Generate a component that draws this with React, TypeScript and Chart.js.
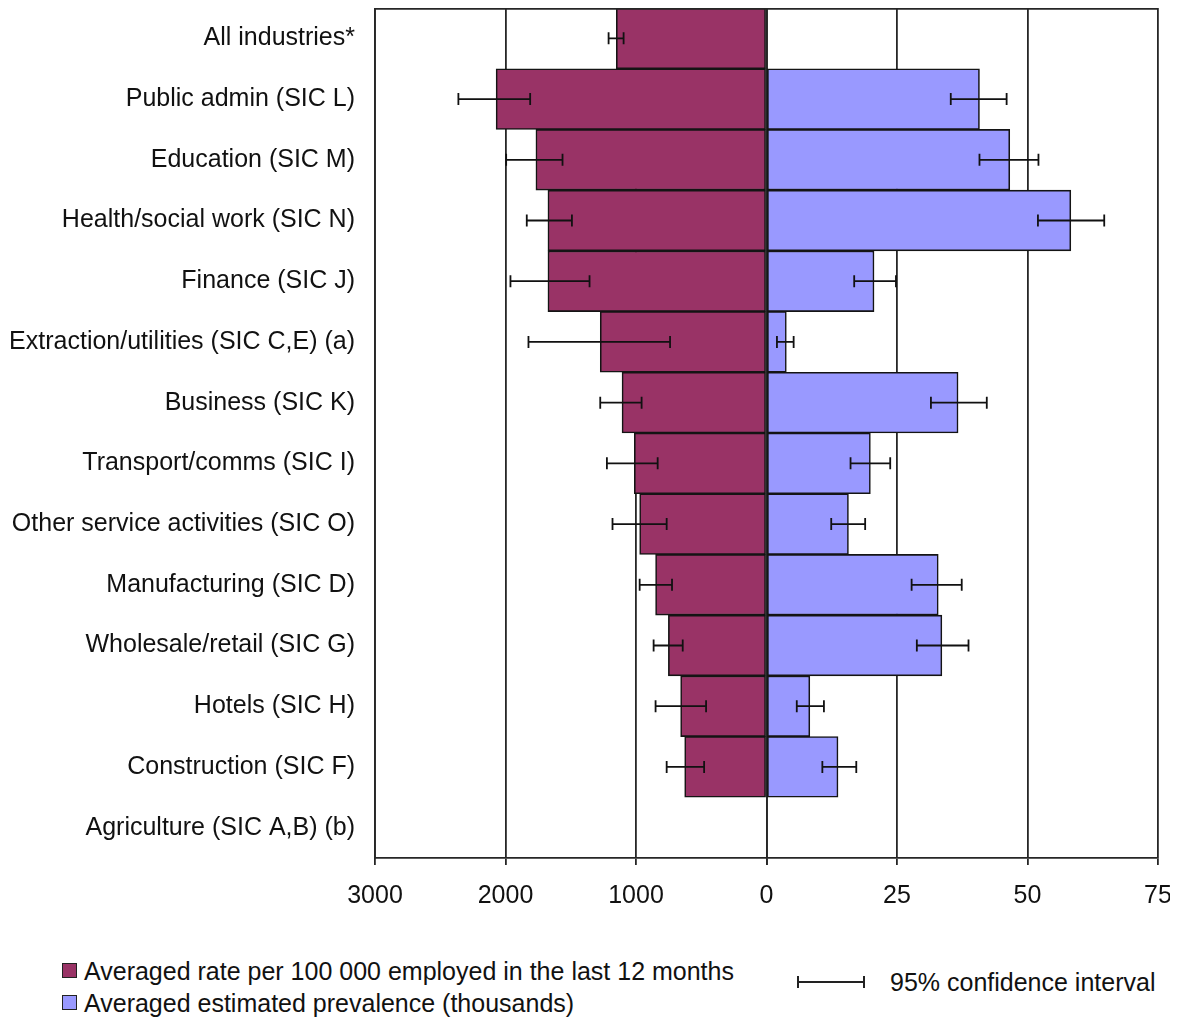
import React, { useEffect, useRef } from "react";
import { Chart, registerables } from "chart.js";

Chart.register(...registerables);

const categories = [
  "All industries*",
  "Public admin (SIC L)",
  "Education (SIC M)",
  "Health/social work (SIC N)",
  "Finance (SIC J)",
  "Extraction/utilities (SIC C,E) (a)",
  "Business (SIC K)",
  "Transport/comms (SIC I)",
  "Other service activities (SIC O)",
  "Manufacturing (SIC D)",
  "Wholesale/retail (SIC G)",
  "Hotels (SIC H)",
  "Construction (SIC F)",
  "Agriculture (SIC A,B) (b)",
];

// Averaged rate per 100 000 employed (left side)
const rateValues = [1151, 2072, 1767, 1675, 1675, 1274, 1107, 1013, 972, 850, 752, 658, 627, null];
const rateLow = [1095, 1811, 1563, 1491, 1356, 739, 957, 834, 765, 724, 642, 463, 478, null];
const rateHigh = [1210, 2361, 1995, 1837, 1962, 1824, 1274, 1223, 1180, 972, 865, 850, 765, null];

// Averaged estimated prevalence, thousands (right side)
const prevValues = [null, 40.8, 46.6, 58.3, 20.6, 3.8, 36.7, 19.9, 15.7, 32.9, 33.6, 8.3, 13.7, null];
const prevLow = [null, 35.3, 40.8, 52.0, 16.8, 2.0, 31.5, 16.1, 12.4, 27.8, 28.8, 5.8, 10.7, null];
const prevHigh = [null, 46.0, 52.1, 64.7, 24.8, 5.2, 42.2, 23.7, 18.9, 37.4, 38.7, 11.0, 17.2, null];

const rateAxis = { min: 0, max: 3000, step: 1000 };
const prevAxis = { min: 0, max: 75, step: 25 };

const legendRate = "Averaged rate per 100 000 employed in the last 12 months";
const legendPrev = "Averaged estimated prevalence (thousands)";
const legendCI = "95% confidence interval";

const FONT = "'Liberation Sans', Arial, Helvetica, sans-serif";
const RATE_COLOR = "#993366";
const PREV_COLOR = "#9999FF";
const LINE = "#262626";

const errorBarPlugin = {
  id: "errorBars",
  afterDatasetsDraw(chart: any) {
    const ctx = chart.ctx;
    chart.data.datasets.forEach((ds: any, i: number) => {
      const meta = chart.getDatasetMeta(i);
      const scale = chart.scales[ds.xAxisID];
      meta.data.forEach((bar: any, j: number) => {
        const lo = ds.errLow[j];
        const hi = ds.errHigh[j];
        if (lo == null || hi == null) return;
        const x1 = scale.getPixelForValue(lo);
        const x2 = scale.getPixelForValue(hi);
        const y = bar.y;
        ctx.save();
        ctx.strokeStyle = "#111";
        ctx.lineWidth = 1.8;
        ctx.beginPath();
        ctx.moveTo(x1, y);
        ctx.lineTo(x2, y);
        ctx.moveTo(x1, y - 6);
        ctx.lineTo(x1, y + 6);
        ctx.moveTo(x2, y - 6);
        ctx.lineTo(x2, y + 6);
        ctx.stroke();
        ctx.restore();
      });
    });
  },
};

const framePlugin = {
  id: "frameTop",
  afterDatasetsDraw(chart: any) {
    const { ctx, chartArea } = chart;
    ctx.save();
    ctx.strokeStyle = LINE;
    ctx.lineWidth = 1.8;
    ctx.beginPath();
    ctx.moveTo(chartArea.left, chartArea.top + 0.9);
    ctx.lineTo(chartArea.right, chartArea.top + 0.9);
    ctx.stroke();
    ctx.restore();
  },
};

function xScale(cfg: any, reverse: boolean, hideZero: boolean, padRight: number) {
  return {
    type: "linear",
    position: "bottom",
    stack: "x",
    reverse,
    min: cfg.min,
    max: cfg.max,
    afterFit(scale: any) {
      scale.height = 50;
      scale.paddingRight = padRight;
      scale.paddingLeft = 0;
    },
    ticks: {
      stepSize: cfg.step,
      autoSkip: false,
      maxRotation: 0,
      color: "#111",
      padding: 16,
      font: { family: FONT, size: 25 },
      callback: (v: any) => (hideZero && v === 0 ? "" : String(v)),
    },
    grid: { color: LINE, lineWidth: 1.8, tickLength: 7, tickColor: LINE, tickWidth: 1.8 },
    border: { display: true, color: LINE, width: 1.8 },
  };
}

export default function App() {
  const ref = useRef<HTMLCanvasElement | null>(null);

  useEffect(() => {
    if (!ref.current) return;
    const chart = new Chart(ref.current, {
      type: "bar",
      data: {
        labels: categories,
        datasets: [
          {
            label: legendRate,
            data: rateValues,
            xAxisID: "xL",
            yAxisID: "y",
            backgroundColor: RATE_COLOR,
            borderColor: "#141414",
            borderWidth: 1.6,
            borderSkipped: false,
            grouped: false,
            categoryPercentage: 1,
            barPercentage: 1,
            errLow: rateLow,
            errHigh: rateHigh,
          } as any,
          {
            label: legendPrev,
            data: prevValues,
            xAxisID: "xR",
            yAxisID: "y",
            backgroundColor: PREV_COLOR,
            borderColor: "#141414",
            borderWidth: 1.6,
            borderSkipped: false,
            grouped: false,
            categoryPercentage: 1,
            barPercentage: 1,
            errLow: prevLow,
            errHigh: prevHigh,
          } as any,
        ],
      },
      options: {
        indexAxis: "y",
        animation: false,
        responsive: false,
        layout: { padding: { top: 0, left: 0, right: 0, bottom: 0 } },
        plugins: { legend: { display: false }, tooltip: { enabled: false } },
        scales: {
          xL: xScale(rateAxis, true, false, 0) as any,
          xR: xScale(prevAxis, false, true, 12) as any,
          y: {
            type: "category",
            afterFit(scale: any) {
              scale.width = 367;
              scale.paddingTop = 0;
              scale.paddingBottom = 0;
            },
            grid: { display: false, drawTicks: false },
            border: { display: true, color: LINE, width: 1.8 },
            ticks: {
              autoSkip: false,
              color: "#111",
              padding: 20,
              font: { family: FONT, size: 25 },
            },
          } as any,
        },
      },
      plugins: [errorBarPlugin, framePlugin],
    });
    return () => chart.destroy();
  }, []);

  const textStyle: React.CSSProperties = {
    position: "absolute",
    fontFamily: FONT,
    fontSize: 25,
    color: "#111",
    whiteSpace: "nowrap",
    lineHeight: "30px",
  };
  const box = (color: string): React.CSSProperties => ({
    position: "absolute",
    width: 13,
    height: 13,
    background: color,
    border: "1px solid #222",
  });

  return (
    <div style={{ width: 1162 }}>
      <canvas ref={ref} width={1162} height={900} style={{ display: "block" }} />
      <div style={{ position: "relative", height: 110 }}>
        <div style={{ ...box(RATE_COLOR), left: 54, top: 55 }} />
        <div style={{ ...textStyle, left: 76, top: 48 }}>{legendRate}</div>
        <div style={{ ...box(PREV_COLOR), left: 54, top: 87 }} />
        <div style={{ ...textStyle, left: 76, top: 80 }}>{legendPrev}</div>
        <div
          style={{
            position: "absolute",
            left: 789,
            top: 68,
            width: 64,
            height: 12,
            borderLeft: "2px solid #222",
            borderRight: "2px solid #222",
          }}
        >
          <div style={{ position: "absolute", left: 0, right: 0, top: 5, height: 2, background: "#222" }} />
        </div>
        <div style={{ ...textStyle, left: 882, top: 59 }}>{legendCI}</div>
      </div>
    </div>
  );
}
